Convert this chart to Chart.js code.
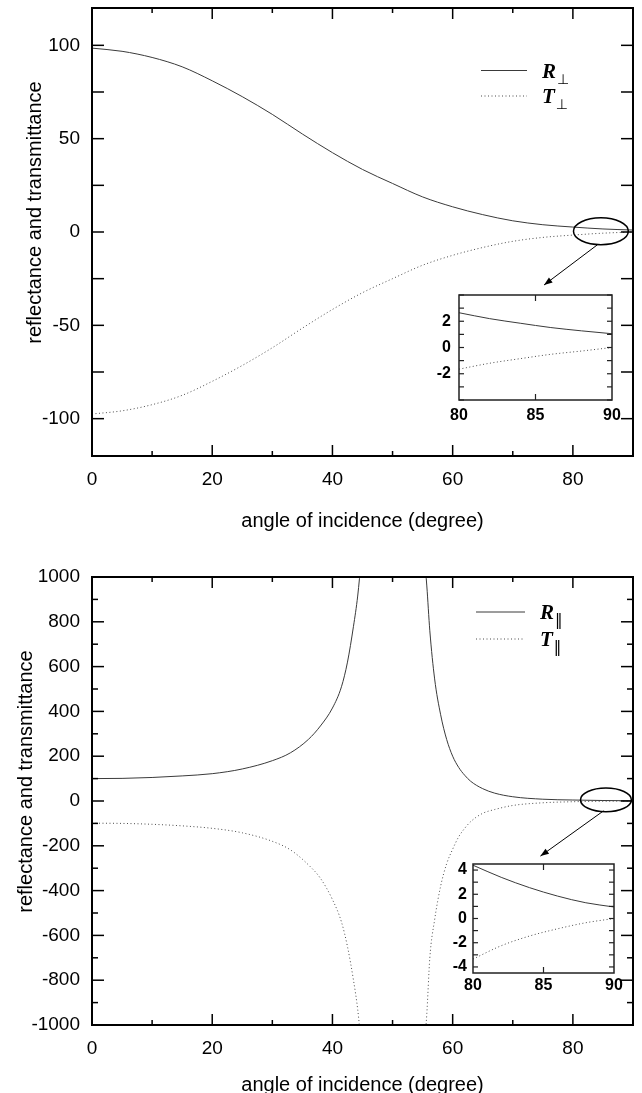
<!DOCTYPE html>
<html>
<head>
<meta charset="utf-8">
<script src="https://cdn.jsdelivr.net/npm/chart.js@4.4.1/dist/chart.umd.min.js"></script>
<style>
  html, body { margin: 0; padding: 0; background: #fff; overflow: hidden; }
  #wrap { position: relative; width: 642px; height: 1093px; }
  canvas { position: absolute; }
</style>
</head>
<body>
<div id="wrap">
  <canvas id="perpChart" width="642" height="545" style="left:0;top:0"></canvas>
  <canvas id="parChart" width="642" height="552" style="left:0;top:545px"></canvas>
  <canvas id="perpInset" width="215" height="150" style="left:420px;top:283px"></canvas>
  <canvas id="parInset" width="205" height="150" style="left:430px;top:852px"></canvas>
</div>
<script>
// angle of incidence (degree)
const angles = [0, 5, 10, 15, 20, 25, 30, 35, 40, 45, 50, 55, 60, 65, 70, 75, 80, 85, 90];
const rPerp = [98.5, 96.8, 93.5, 88.5, 81, 72.5, 63, 52.5, 42.5, 33.5, 26, 18.8, 13.5, 9.3, 6, 3.9, 2.65, 1.63, 1.05];
const tPerp = [-97.5, -95.8, -92.5, -87.5, -80, -71.5, -62, -51.5, -41.5, -32.5, -25, -17.8, -12.5, -8.3, -5, -2.9, -1.65, -0.63, 0];

// parallel case, null = break at the pole
const anglesPar = [0, 5, 10, 15, 20, 25, 30, 33, 36, 38, 40, 41.5, 42.5, 43.5, 44.2, 44.8, 50,
  55.3, 55.7, 56.2, 57, 58, 59, 60, 61, 62, 63, 65, 67, 70, 75, 80, 85, 90];
const rPar = [100, 101, 105, 112, 122, 143, 180, 215, 275, 335, 415, 510, 620, 780, 915, 1080, null,
  1090, 960, 760, 545, 385, 275, 200, 150, 115, 88, 55, 35, 19, 8, 4.4, 2.2, 1.0];
const tPar = [-99, -100, -104, -111, -122, -142, -180, -218, -285, -345, -440, -540, -650, -800, -930, -1090, null,
  -1090, -950, -700, -530, -380, -280, -215, -160, -122, -92, -55, -38, -20, -8, -3.3, -1.15, 0];

// zoomed insets 80..90
const insetAngles = [80, 82, 84, 86, 88, 90];
const rPerpInset = [2.65, 2.2, 1.85, 1.52, 1.27, 1.05];
const tPerpInset = [-1.65, -1.2, -0.85, -0.52, -0.27, 0];
const rParInset = [4.4, 3.4, 2.55, 1.85, 1.3, 0.95];
const tParInset = [-3.35, -2.25, -1.45, -0.85, -0.35, 0];

// ticks
const xTickLabels = [0, 20, 40, 60, 80];
const xMinorTicks = [10, 30, 50, 70];
const perpYTickLabels = [-100, -50, 0, 50, 100];
const perpYTicks = [-100, -75, -50, -25, 0, 25, 50, 75, 100];
const parYTickLabels = [-1000, -800, -600, -400, -200, 0, 200, 400, 600, 800, 1000];
const parYMinor = [-900, -700, -500, -300, -100, 100, 300, 500, 700, 900];
const insetXTickLabels = [80, 85, 90];
const perpInsetYTickLabels = [-2, 0, 2];
const parInsetYTickLabels = [-4, -2, 0, 2, 4];
const insetYTicks = [-4, -3, -2, -1, 0, 1, 2, 3, 4];

Chart.defaults.font.family = '"Liberation Sans", Arial, sans-serif';
Chart.defaults.color = '#000';

const toPoints = (xs, ys) => xs.map((a, i) => ({x: a, y: ys[i]}));

// frame + inward ticks on all four sides
const frameTicks = {
  id: 'frameTicks',
  afterDraw(chart, args, o) {
    const {ctx, chartArea: a, scales: {x, y}} = chart;
    ctx.save();
    ctx.strokeStyle = o.color || '#000';
    ctx.lineWidth = o.frameWidth || 2;
    ctx.strokeRect(a.left, a.top, a.right - a.left, a.bottom - a.top);
    ctx.lineWidth = o.tickWidth || 1.5;
    const seg = (x1, y1, x2, y2) => { ctx.beginPath(); ctx.moveTo(x1, y1); ctx.lineTo(x2, y2); ctx.stroke(); };
    const xt = (vals, len) => (vals || []).forEach(v => {
      const p = x.getPixelForValue(v);
      seg(p, a.bottom, p, a.bottom - len);
      seg(p, a.top, p, a.top + len);
    });
    const yt = (vals, len) => (vals || []).forEach(v => {
      const p = y.getPixelForValue(v);
      seg(a.left, p, a.left + len, p);
      seg(a.right, p, a.right - len, p);
    });
    xt(o.xMajor, o.xMajorLen); xt(o.xMinor, o.xMinorLen);
    yt(o.yMajor, o.yMajorLen); yt(o.yMinor, o.yMinorLen);
    ctx.restore();
  }
};

// legend with line samples and math symbols
const symbolLegend = {
  id: 'symbolLegend',
  afterDraw(chart, args, o) {
    if (!o.items) return;
    const {ctx, chartArea: a} = chart;
    o.items.forEach((it, i) => {
      const y = a.top + o.top + i * o.gap;
      const x0 = a.left + o.left;
      ctx.save();
      ctx.strokeStyle = it.color; ctx.lineWidth = 1;
      ctx.setLineDash(it.dash || []);
      ctx.beginPath(); ctx.moveTo(x0, y); ctx.lineTo(x0 + o.lineLen, y); ctx.stroke();
      ctx.setLineDash([]);
      ctx.fillStyle = '#000';
      ctx.textBaseline = 'alphabetic';
      ctx.font = 'italic bold 21px "Liberation Serif"';
      const tx = x0 + o.lineLen + 15;
      ctx.fillText(it.symbol, tx, y + 7);
      const w = ctx.measureText(it.symbol).width;
      ctx.font = o.subFont;
      ctx.fillText(it.sub, tx + w + 1, y + 13);
      ctx.restore();
    });
  }
};

// ellipse around the zoomed region + arrow to inset
const callout = {
  id: 'callout',
  afterDraw(chart, args, o) {
    if (o.cx === undefined) return;
    const {ctx, scales: {x, y}} = chart;
    const cx = x.getPixelForValue(o.cx), cy = y.getPixelForValue(o.cy);
    const rx = Math.abs(x.getPixelForValue(o.cx + o.rx) - cx);
    const ry = Math.abs(y.getPixelForValue(o.cy + o.ry) - cy);
    ctx.save();
    ctx.strokeStyle = '#000';
    ctx.lineWidth = 1.5;
    ctx.beginPath(); ctx.ellipse(cx, cy, rx, ry, 0, 0, 2 * Math.PI); ctx.stroke();
    const x1 = x.getPixelForValue(o.from[0]), y1 = y.getPixelForValue(o.from[1]);
    const x2 = x.getPixelForValue(o.to[0]), y2 = y.getPixelForValue(o.to[1]);
    ctx.lineWidth = 1;
    ctx.beginPath(); ctx.moveTo(x1, y1); ctx.lineTo(x2, y2); ctx.stroke();
    const ang = Math.atan2(y2 - y1, x2 - x1);
    ctx.fillStyle = '#000';
    ctx.beginPath();
    ctx.moveTo(x2, y2);
    ctx.lineTo(x2 - 9 * Math.cos(ang - 0.35), y2 - 9 * Math.sin(ang - 0.35));
    ctx.lineTo(x2 - 9 * Math.cos(ang + 0.35), y2 - 9 * Math.sin(ang + 0.35));
    ctx.closePath(); ctx.fill();
    ctx.restore();
  }
};

Chart.register(frameTicks, symbolLegend, callout);

const rStyle = {borderColor: '#3a3a3a', borderWidth: 1, pointRadius: 0, fill: false, cubicInterpolationMode: 'monotone'};
const tStyle = {borderColor: '#4a4a4a', borderWidth: 1, borderDash: [1, 2.5], pointRadius: 0, fill: false, cubicInterpolationMode: 'monotone'};

// keep the plot box where we put it, no extra room for edge labels
const fixX = h => s => { s.height = h; s.paddingLeft = 0; s.paddingRight = 0; };
const fixY = w => s => { s.width = w; s.paddingTop = 0; s.paddingBottom = 0; };
const plain = v => String(v);

function mainChart(id, cfg) {
  return new Chart(document.getElementById(id), {
    type: 'line',
    data: {
      datasets: [
        Object.assign({label: 'R', data: toPoints(cfg.xs, cfg.r)}, rStyle),
        Object.assign({label: 'T', data: toPoints(cfg.xs, cfg.t)}, tStyle)
      ]
    },
    options: {
      responsive: false,
      animation: false,
      events: [],
      layout: {padding: {top: cfg.padTop, right: 9, left: 0, bottom: 0}},
      plugins: {
        legend: {display: false},
        tooltip: {enabled: false},
        frameTicks: {
          xMajor: xTickLabels, xMinor: xMinorTicks, xMajorLen: 11, xMinorLen: 5,
          yMajor: cfg.yMajor, yMinor: cfg.yMinor, yMajorLen: 12, yMinorLen: 6,
          frameWidth: 2, tickWidth: 1.5
        },
        symbolLegend: cfg.legend,
        callout: cfg.callout
      },
      scales: {
        x: {
          type: 'linear', min: 0, max: 90,
          afterBuildTicks: s => { s.ticks = xTickLabels.map(v => ({value: v})); },
          afterFit: fixX(cfg.xHeight),
          grid: {display: false, drawTicks: false}, border: {display: false},
          ticks: {font: {size: 19}, padding: 12, maxRotation: 0, callback: plain},
          title: {display: true, text: 'angle of incidence (degree)', font: {size: 20}, padding: {top: 0, bottom: cfg.xTitlePad}}
        },
        y: {
          type: 'linear', min: cfg.yMin, max: cfg.yMax,
          afterBuildTicks: s => { s.ticks = cfg.yLabels.map(v => ({value: v})); },
          afterFit: fixY(92),
          grid: {display: false, drawTicks: false}, border: {display: false},
          ticks: {font: {size: 19}, padding: 12, callback: plain},
          title: {display: true, text: '       reflectance and transmittance', font: {size: 20}, padding: {top: cfg.yTitlePad, bottom: 0}}
        }
      }
    }
  });
}

function insetChart(id, cfg) {
  return new Chart(document.getElementById(id), {
    type: 'line',
    data: {
      datasets: [
        Object.assign({label: 'R', data: toPoints(insetAngles, cfg.r)}, rStyle),
        Object.assign({label: 'T', data: toPoints(insetAngles, cfg.t)}, tStyle)
      ]
    },
    options: {
      responsive: false,
      animation: false,
      events: [],
      layout: {padding: {top: 12, right: cfg.padRight, left: 0, bottom: 0}},
      plugins: {
        legend: {display: false},
        tooltip: {enabled: false},
        frameTicks: {
          xMajor: [85], xMajorLen: 6,
          yMajor: insetYTicks, yMajorLen: 5,
          frameWidth: 1.5, tickWidth: 1.2, color: '#222'
        }
      },
      scales: {
        x: {
          type: 'linear', min: 80, max: 90,
          afterBuildTicks: s => { s.ticks = insetXTickLabels.map(v => ({value: v})); },
          afterFit: fixX(cfg.xHeight),
          grid: {display: false, drawTicks: false}, border: {display: false},
          ticks: {font: {size: 16, weight: 'bold'}, padding: cfg.xPad, maxRotation: 0, callback: plain}
        },
        y: {
          type: 'linear', min: cfg.yMin, max: cfg.yMax,
          afterBuildTicks: s => { s.ticks = cfg.yLabels.map(v => ({value: v})); },
          afterFit: fixY(cfg.yWidth),
          grid: {display: false, drawTicks: false}, border: {display: false},
          ticks: {font: {size: 16, weight: 'bold'}, padding: cfg.yPad, callback: plain}
        }
      }
    }
  });
}

mainChart('perpChart', {
  xs: angles, r: rPerp, t: tPerp,
  yMin: -120, yMax: 120, yLabels: perpYTickLabels, yMajor: perpYTicks, yMinor: [],
  padTop: 8, xHeight: 89, xTitlePad: 12, yTitlePad: 23,
  legend: {
    left: 389, top: 62.5, gap: 25.5, lineLen: 46, subFont: '14px "DejaVu Sans"',
    items: [
      {symbol: 'R', sub: '\u22A5', color: '#3a3a3a'},
      {symbol: 'T', sub: '\u22A5', color: '#4a4a4a', dash: [1, 2.5]}
    ]
  },
  callout: {cx: 84.66, cy: 0.4, rx: 4.56, ry: 7.2, from: [84.1, -6.8], to: [75.2, -28.4]}
});

mainChart('parChart', {
  xs: anglesPar, r: rPar, t: tPar,
  yMin: -1000, yMax: 1000, yLabels: parYTickLabels, yMajor: parYTickLabels, yMinor: parYMinor,
  padTop: 32, xHeight: 72, xTitlePad: 0, yTitlePad: 14,
  legend: {
    left: 384, top: 35, gap: 27, lineLen: 49, subFont: '15px "DejaVu Sans"',
    items: [
      {symbol: 'R', sub: '\u2016', color: '#3a3a3a'},
      {symbol: 'T', sub: '\u2016', color: '#4a4a4a', dash: [1, 2.5]}
    ]
  },
  callout: {cx: 85.5, cy: 5, rx: 4.23, ry: 52.6, from: [85.1, -44], to: [74.6, -246]}
});

insetChart('perpInset', {
  r: rPerpInset, t: tPerpInset, yMin: -4, yMax: 4, yLabels: perpInsetYTickLabels,
  padRight: 23, xHeight: 33, yWidth: 39, xPad: 6, yPad: 8
});

insetChart('parInset', {
  r: rParInset, t: tParInset, yMin: -4.5, yMax: 4.5, yLabels: parInsetYTickLabels,
  padRight: 21, xHeight: 29, yWidth: 43, xPad: 3, yPad: 6
});
</script>
</body>
</html>
